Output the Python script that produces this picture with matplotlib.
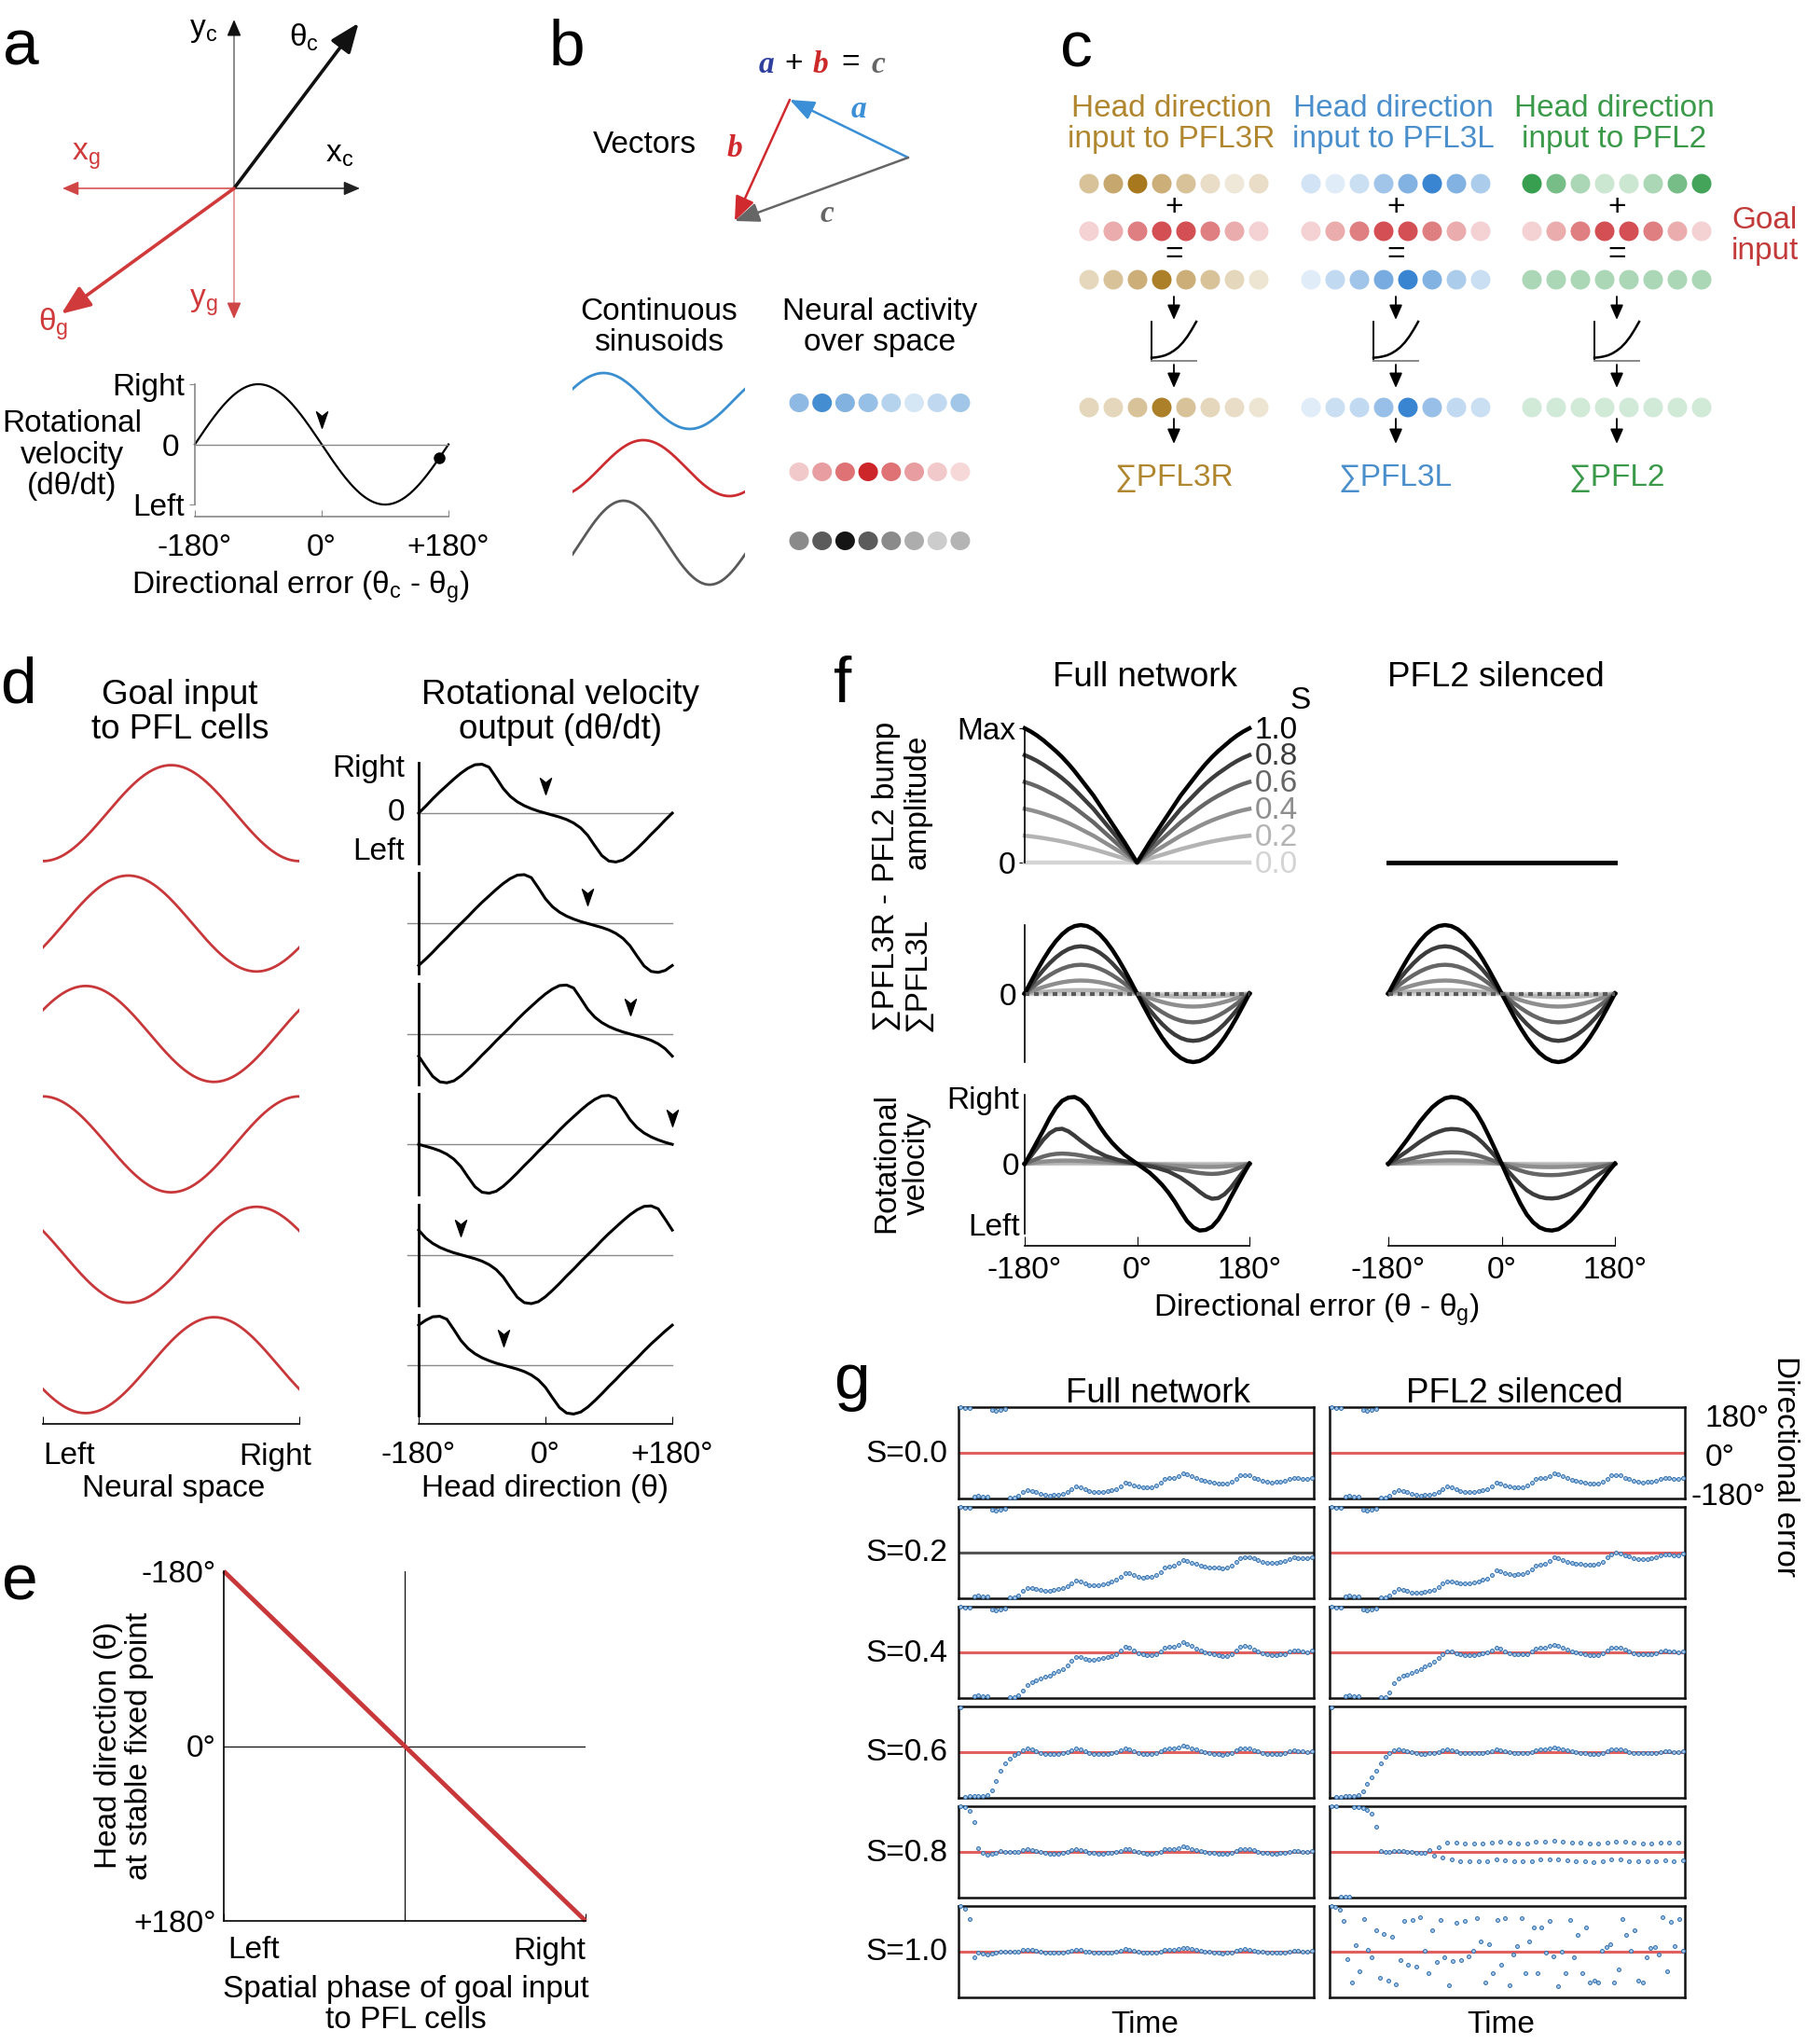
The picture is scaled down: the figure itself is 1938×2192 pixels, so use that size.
import numpy as np
import matplotlib
matplotlib.use("Agg")
import matplotlib.pyplot as plt
import matplotlib.colors as mcolors
from matplotlib import font_manager
from matplotlib.patches import Ellipse
from matplotlib.path import Path

W_PX, H_PX = 1938, 2192

# ======================= DATA =======================
# (a) schematic
A_MARK_ERR = 167
A_FIXED_POINT = 0
A_AXES = {'yc': (90, 181), 'xc': (0, 135), 'xg': (180, 184), 'yg': (270, 140)}
A_THETA_C = (53, 222)
A_THETA_G = (216, 229)

# (b)
B_VEC_A = (-127, 62)
B_VEC_B = (-59, -130)
B_PEAK_A, B_PEAK_B = 0.18, 0.41
B_AMP_A, B_AMP_B = 1.0, 1.0
B_DOTS_A = [0.55, 0.9, 0.6, 0.5, 0.35, 0.2, 0.3, 0.45]
B_DOTS_B = [0.25, 0.45, 0.65, 1.0, 0.65, 0.45, 0.25, 0.18]
B_DOTS_C = [0.5, 0.7, 1.0, 0.7, 0.5, 0.35, 0.22, 0.32]

# (c)
C_TITLES = ['Head direction\ninput to PFL3R', 'Head direction\ninput to PFL3L', 'Head direction\ninput to PFL2']
C_SUMS = ['∑PFL3R', '∑PFL3L', '∑PFL2']
C_TEXT_COLORS = ['#b0862f', '#4a8fcc', '#3a9a4a']
C_DOT_COLORS = ['#a8781e', '#2f7fcf', '#2e9a48']
C_GOAL = [0.22, 0.4, 0.62, 0.85, 0.85, 0.62, 0.4, 0.22]
C_HD = [[0.45, 0.65, 1.0, 0.6, 0.45, 0.25, 0.18, 0.25],
        [0.22, 0.15, 0.25, 0.45, 0.6, 0.95, 0.6, 0.4],
        [0.95, 0.65, 0.4, 0.25, 0.25, 0.4, 0.65, 0.9]]
C_SUMROW = [[0.3, 0.45, 0.6, 0.95, 0.6, 0.45, 0.3, 0.2],
            [0.15, 0.3, 0.45, 0.65, 0.95, 0.6, 0.4, 0.25],
            [0.4, 0.4, 0.4, 0.4, 0.4, 0.4, 0.4, 0.4]]
C_OUT = [[0.3, 0.3, 0.45, 0.95, 0.45, 0.3, 0.25, 0.2],
         [0.15, 0.25, 0.3, 0.5, 0.95, 0.5, 0.3, 0.25],
         [0.22, 0.22, 0.22, 0.22, 0.22, 0.22, 0.22, 0.22]]
C_NL_X = [0.0, 0.1, 0.2, 0.3, 0.4, 0.5, 0.6, 0.7, 0.8, 0.9, 1.0]
C_NL_Y = [0.08, 0.09, 0.11, 0.14, 0.19, 0.26, 0.35, 0.47, 0.62, 0.8, 1.0]

# (d)
D_GOAL_PEAK = [0.5, 0.333, 0.167, 0.0, 0.833, 0.667]      # peak position of goal sinusoid (Left=0, Right=1)
D_FIXED = [0, 60, 120, 180, -120, -60]                     # stable fixed points (deg)
D_THETA = np.arange(-180, 181, 10)
D_SHAPE = [0.00, 0.14, 0.29, 0.43, 0.56, 0.69, 0.81, 0.91, 0.98, 0.99, 0.93, 0.72, 0.50,
           0.34, 0.23, 0.15, 0.09, 0.04, 0.00, -0.04, -0.08, -0.13, -0.20, -0.30, -0.45,
           -0.66, -0.86, -0.97, -0.99, -0.95, -0.85, -0.72, -0.58, -0.43, -0.29, -0.14, 0.00]

# (e)
E_PHASE = [0.0, 1.0]
E_FIXED = [-180, 180]

# (f)
F_S = [0.0, 0.2, 0.4, 0.6, 0.8, 1.0]
F_COLORS = ['#d4d4d4', '#b4b4b4', '#8e8e8e', '#666666', '#3c3c3c', '#000000']
F_DELTA = np.arange(-180, 181, 10)
F_BUMP_HALF = [0, 0.075, 0.15, 0.22, 0.29, 0.36, 0.43, 0.50, 0.56, 0.62, 0.68, 0.735,
               0.785, 0.83, 0.87, 0.91, 0.945, 0.975, 1.0]
F_DIFF_AMP = [0.0, 0.05, 0.19, 0.42, 0.69, 1.0]
F_ROT_FULL_NEG = [
    [0] * 19,
    [0, 0.004, 0.007, 0.01, 0.012, 0.014, 0.015, 0.015, 0.015, 0.014, 0.013, 0.011, 0.01, 0.008, 0.006, 0.005, 0.003, 0.002, 0],
    [0, 0.012, 0.024, 0.034, 0.042, 0.048, 0.05, 0.05, 0.048, 0.045, 0.04, 0.035, 0.03, 0.025, 0.02, 0.015, 0.01, 0.005, 0],
    [0, 0.04, 0.08, 0.115, 0.14, 0.155, 0.16, 0.155, 0.145, 0.13, 0.11, 0.095, 0.08, 0.065, 0.05, 0.035, 0.025, 0.012, 0],
    [0, 0.12, 0.25, 0.38, 0.48, 0.54, 0.55, 0.51, 0.44, 0.36, 0.29, 0.22, 0.17, 0.12, 0.09, 0.06, 0.04, 0.02, 0],
    [0, 0.17, 0.35, 0.53, 0.72, 0.88, 0.99, 1.04, 1.05, 1.00, 0.90, 0.75, 0.59, 0.45, 0.33, 0.23, 0.14, 0.07, 0],
]
F_ROT_SIL_SHAPE = [0, 0.12, 0.25, 0.38, 0.52, 0.66, 0.78, 0.89, 0.97, 1.03, 1.05, 1.04, 1.0,
                   0.92, 0.80, 0.63, 0.43, 0.22, 0]
F_ROT_SIL_AMP = [0.0, 0.015, 0.05, 0.17, 0.52, 1.0]

# (g) directional error traces (deg)
G_START = [179, 178, 177, -172, -170, -171, -174, 170, 167, 168, 171, -177, -176]
G_WOBBLE = [0] * 13 + [
    2, 10, 14, 10, 4, -2, -6, -8, -8, -7,
    -5, 0, 8, 14, 10, 3, -3, -6, -7, -7,
    -6, -4, -1, 6, 16, 12, 4, -2, -6, -7,
    -7, -5, 2, 12, 14, 14, 20, 26, 22, 16,
    10, 4, 0, -3, -6, -8, -10, -9, -4, 6,
    14, 16, 14, 8, 2, -3, -6, -7, -7, -6,
    -4, 2, 6, 4, 2, 1, 4]
G_DRIFT_00 = [
    -171, -168, -165, -162, -160, -159, -158, -157, -156, -155,
    -154, -153, -152, -151, -150, -149, -148, -147, -146, -145,
    -144, -143, -141, -139, -137, -135, -133, -131, -129, -127,
    -125, -123, -121, -119, -118, -117, -116, -115, -114, -113,
    -112, -112, -111, -111, -110, -110, -110, -109, -109, -109,
    -108, -108, -108, -108, -107, -107, -107, -107, -106, -106,
    -106, -106, -106, -105, -105, -105, -105]
G_DRIFT_F02 = [
    -170, -165, -158, -152, -148, -145, -142, -140, -138, -136,
    -134, -132, -131, -130, -128, -126, -124, -122, -119, -116,
    -113, -110, -107, -104, -100, -97, -95, -93, -91, -88,
    -85, -82, -79, -76, -74, -70, -67, -64, -62, -60,
    -58, -57, -56, -54, -52, -50, -49, -48, -46, -43,
    -40, -38, -36, -34, -33, -32, -31, -30, -30, -29,
    -29, -28, -28, -27, -26, -25, -25]
G_DRIFT_S02 = [
    -170, -167, -163, -160, -157, -154, -151, -148, -145, -142,
    -139, -136, -133, -131, -127, -123, -119, -115, -112, -109,
    -106, -103, -100, -97, -92, -89, -86, -83, -80, -76,
    -74, -72, -70, -68, -66, -62, -58, -54, -52, -50,
    -48, -46, -44, -42, -40, -38, -36, -34, -31, -28,
    -25, -22, -21, -20, -19, -18, -17, -16, -16, -15,
    -15, -14, -14, -13, -12, -11, -10]
G_DRIFT_F04 = [-172, -165, -150, -132, -115, -100, -88, -78, -70, -63, -57, -51, -45, -40, -35,
               -30, -25, -20, -16, -12, -9, -7, -5, -3, -2, -1, 0, 0, 0, 0] + [0] * 37
G_DRIFT_S04 = [-160, -135, -118, -103, -92, -80, -67, -57, -47, -38, -30, -23, -18, -14, -10,
               -7, -5, -3, -2, -1] + [0] * 47
G_F06 = [178, -175, -173, -172, -171, -171, -170, -150, -115, -75, -45, -25, -12, -5, -2, -1] + [0] * 64
G_S06 = [178, -176, -175, -174, -174, -173, -170, -155, -125, -100, -72, -45, -20, -4, 0] + [0] * 65
G_F08 = [179, 176, 162, 117, 14, -4, -12, -8, -3, 2] + [0] * 70
G_S08 = [179, 179, -176, -175, -176, 177, 176, 172, 166, 152, 100, 3] + [0] * 68
G_S08_SPLIT = [0] * 22 + [8, 14, 20, 26, 30, 33, 35, 36] + [36] * 50
G_F10 = [179, 169, 130, -23, -5, -6, -11, -6, -2, 0] + [0] * 70
G_S10 = [179, 175, 166, 121, -29, -122, 25, -77, 130, 7,
         -23, 85, -104, 70, -113, 58, -128, -32, 121, -50,
         124, -59, 135, 4, -83, 85, -41, 124, -23, -131,
         -38, 115, -32, 121, -18, 4, 133, 40, -122, 31,
         -86, 124, -50, 133, -131, -11, 22, 133, -86, 40,
         97, -86, 97, -5, 121, -20, -137, 0, -86, 124,
         -23, 67, -83, 94, -122, -113, -122, 4, 18, 31,
         -122, -68, 130, 67, 4, 85, -113, -122, -23, 13,
         18, -11, 135, -77, 117, 22, 130, 4]
G_K = {'F00': 1.3, 'S00': 1.3, 'F02': 1.3, 'S02': 1.3, 'F04': 1.5, 'S04': 1.2,
       'F06': 1.0, 'S06': 0.7, 'F08': 0.8, 'S08': 0.35, 'F10': 0.6}
G_LABELS = ['S=0.0', 'S=0.2', 'S=0.4', 'S=0.6', 'S=0.8', 'S=1.0']

# ======================= STYLE =======================
names = {f.name for f in font_manager.fontManager.ttflist}
REG = 'Liberation Sans' if 'Liberation Sans' in names else 'DejaVu Sans'
SERIF = 'Liberation Serif' if 'Liberation Serif' in names else 'DejaVu Serif'
plt.rcParams['font.family'] = [REG, 'DejaVu Sans']
plt.rcParams['mathtext.fontset'] = 'custom'
plt.rcParams['mathtext.rm'] = REG
plt.rcParams['mathtext.it'] = REG + ':italic'
plt.rcParams['mathtext.bf'] = REG + ':bold'
plt.rcParams['font.size'] = 24
plt.rcParams['axes.linewidth'] = 1.2

FS = 24
FT = 26.5
FL = 50
LS = 1.1
RED = '#c8383a'

fig = plt.figure(figsize=(W_PX / 100, H_PX / 100), dpi=100, facecolor='white')


def pax(x0, y0, x1, y1):
    ax = fig.add_axes([x0 / W_PX, 1 - y1 / H_PX, (x1 - x0) / W_PX, (y1 - y0) / H_PX])
    ax.patch.set_alpha(0)
    return ax


def clean(ax):
    for s in ax.spines.values():
        s.set_visible(False)
    ax.set_xticks([])
    ax.set_yticks([])


ov = fig.add_axes([0, 0, 1, 1], zorder=20)
ov.set_xlim(0, W_PX)
ov.set_ylim(H_PX, 0)
ov.axis('off')
ov.patch.set_alpha(0)


def T(x, y, s, size=FS, ha='center', va='center', **kw):
    ov.text(x, y, s, fontsize=size, ha=ha, va=va, **kw)


def arrow(tail, head, color, lw, ms=15, hl=0.7, hw=0.3):
    ov.annotate('', xy=head, xytext=tail,
                arrowprops=dict(arrowstyle=f'-|>,head_length={hl},head_width={hw}',
                                color=color, lw=lw, shrinkA=0, shrinkB=0, mutation_scale=ms))


def polar(o, ang, length):
    return (o[0] + length * np.cos(np.deg2rad(ang)), o[1] - length * np.sin(np.deg2rad(ang)))


def mix(base, t):
    rgb = np.array(mcolors.to_rgb(base))
    return tuple(1 - t * (1 - rgb))


def wrap(v):
    return (np.asarray(v, dtype=float) + 180) % 360 - 180


CHEV = Path([(0, -1), (-0.62, 0.8), (0, 0.3), (0.62, 0.8), (0, -1)],
            [Path.MOVETO, Path.LINETO, Path.LINETO, Path.LINETO, Path.CLOSEPOLY])

# panel letters
for lab, x, y in [('a', 3, 70), ('b', 589, 70), ('c', 1137, 72), ('d', 0, 753),
                  ('e', 2, 1716), ('f', 894, 753), ('g', 894, 1500)]:
    T(x, y, lab, size=FL, ha='left', va='baseline')

# ======================= (a) =======================
O = (251, 202)
p = polar(O, *A_AXES['yc'])
ov.plot([O[0], p[0]], [O[1], p[1] + 10], color='#8c8c8c', lw=1.4)
arrow((p[0], p[1] + 12), p, '#111111', 1.2)
p = polar(O, *A_AXES['xc'])
arrow(O, p, '#222222', 1.1)
p = polar(O, *A_AXES['xg'])
arrow(O, p, '#d04545', 1.1)
p = polar(O, *A_AXES['yg'])
ov.plot([O[0], p[0]], [O[1], p[1] - 10], color='#e7a0a0', lw=1.4)
arrow((p[0], p[1] - 12), p, '#d04545', 1.2)
arrow(O, polar(O, *A_THETA_C), '#111111', 2.6, ms=24, hl=0.8, hw=0.32)
arrow(O, polar(O, *A_THETA_G), '#d03a3a', 2.6, ms=24, hl=0.8, hw=0.32)
T(218, 32, 'y$_{\\rm c}$')
T(326, 40, 'θ$_{\\rm c}$')
T(364, 166, 'x$_{\\rm c}$')
T(92, 168, 'x$_{\\rm g}$', color='#d03a3a')
T(218, 325, 'y$_{\\rm g}$', color='#d03a3a')
T(57, 348, 'θ$_{\\rm g}$', color='#d03a3a')

axa = pax(209, 412, 481, 554)
ae = np.arange(-180, 181, 2)
axa.plot(ae, -np.sin(np.deg2rad(ae)), color='black', lw=1.6, clip_on=False)
axa.plot([-180, 180], [0, 0], color='#888888', lw=1.0)
axa.plot([A_MARK_ERR], [-np.sin(np.deg2rad(A_MARK_ERR))], 'o', color='black', ms=8, clip_on=False)
axa.plot([A_FIXED_POINT], [0.42], marker=CHEV, color='black', ms=14, ls='none', clip_on=False)
axa.set_xlim(-180, 180)
axa.set_ylim(-1.2, 1.0)
for s in ['top', 'right']:
    axa.spines[s].set_visible(False)
axa.spines['left'].set_bounds(-1, 1)
axa.spines['left'].set_color('#888888')
axa.spines['bottom'].set_color('#888888')
axa.set_yticks([-1, 1])
axa.set_yticklabels(['Left', 'Right'])
axa.set_yticks([0], minor=True)
axa.set_yticklabels(['0'], minor=True)
axa.tick_params(axis='y', which='major', length=4, color='#888888', labelsize=FS, pad=4)
axa.tick_params(axis='y', which='minor', length=0, labelsize=FS, pad=12)
axa.set_xticks([-180, 0, 180])
axa.set_xticklabels(['-180°', '0°', '+180°'])
axa.tick_params(axis='x', direction='in', length=5, color='#888888', labelsize=FS, pad=13)
T(77, 488, 'Rotational\nvelocity\n(dθ/dt)', linespacing=LS)
T(322, 630, 'Directional error (θ$_{\\rm c}$ - θ$_{\\rm g}$)')

# ======================= (b) =======================
eq = [('a', '#2e3f9e', True), ('+', 'black', False), ('b', '#cc2a2a', True),
      ('=', 'black', False), ('c', '#666666', True)]
for (s, col, it), x in zip(eq, [822, 851, 880, 912, 942]):
    if it:
        T(x, 70, s, size=FS, color=col, family=SERIF, style='italic', weight='bold')
    else:
        T(x, 68, s, size=FS, color=col)
tail = (974, 169)
ha_ = (tail[0] + B_VEC_A[0], tail[1] - B_VEC_A[1])
hb_ = (ha_[0] + B_VEC_B[0], ha_[1] - B_VEC_B[1])
arrow(tail, ha_, '#3a8fd6', 1.8, ms=20, hl=0.8, hw=0.32)
arrow(ha_, hb_, '#d0292e', 1.8, ms=20, hl=0.8, hw=0.32)
vc = (B_VEC_A[0] + B_VEC_B[0], B_VEC_A[1] + B_VEC_B[1])
arrow(tail, (tail[0] + vc[0], tail[1] - vc[1]), '#666666', 1.8, ms=20, hl=0.8, hw=0.32)
T(921, 117, 'a', color='#3a8fd6', family=SERIF, style='italic', weight='bold')
T(788, 160, 'b', color='#d0292e', family=SERIF, style='italic', weight='bold')
T(887, 230, 'c', color='#666666', family=SERIF, style='italic', weight='bold')
T(691, 156, 'Vectors')
T(707, 351, 'Continuous\nsinusoids', linespacing=LS)
T(944, 351, 'Neural activity\nover space', linespacing=LS)

xs = np.linspace(0, 1, 200)
ya = B_AMP_A * np.cos(2 * np.pi * (xs - B_PEAK_A))
yb = B_AMP_B * np.cos(2 * np.pi * (xs - B_PEAK_B))
for yy, cy, col in [(ya, 430, '#3a8fd0'), (yb, 502, '#cc2d30'), (ya + yb, 582, '#5a5a5a')]:
    axs = pax(614, cy - 48, 799, cy + 48)
    axs.plot(xs, yy, color=col, lw=2.0)
    axs.set_xlim(0, 1)
    axs.set_ylim(-1.6, 1.6)
    clean(axs)

for vals, cy, base in [(B_DOTS_A, 432, '#2f80cc'), (B_DOTS_B, 506, '#cc262b'), (B_DOTS_C, 580, '#151515')]:
    for k, v in enumerate(vals):
        ov.add_patch(Ellipse((857 + k * 24.7, cy), 21, 20, facecolor=mix(base, v), edgecolor='none'))

# ======================= (c) =======================
col_x0 = [1168, 1406, 1643]
sp = 26
for j in range(3):
    cx = col_x0[j] + 3.5 * sp
    T(cx - 3, 133, C_TITLES[j], color=C_TEXT_COLORS[j], linespacing=LS)
    for vals, cy, base in [(C_HD[j], 197, C_DOT_COLORS[j]), (C_GOAL, 248, '#cc3035'),
                           (C_SUMROW[j], 300, C_DOT_COLORS[j]), (C_OUT[j], 437, C_DOT_COLORS[j])]:
        for k, v in enumerate(vals):
            ov.add_patch(Ellipse((col_x0[j] + k * sp, cy), 21, 21, facecolor=mix(base, v), edgecolor='none'))
    T(cx, 222, '+')
    T(cx, 274, '=')
    arrow((cx, 318), (cx, 343), 'black', 1.3, ms=12, hl=0.8, hw=0.35)
    arrow((cx, 391), (cx, 416), 'black', 1.3, ms=12, hl=0.8, hw=0.35)
    arrow((cx, 449), (cx, 476), 'black', 1.3, ms=12, hl=0.8, hw=0.35)
    axn = pax(cx - 24, 345, cx + 24, 387)
    axn.plot(C_NL_X, C_NL_Y, color='black', lw=1.8, clip_on=False)
    axn.set_xlim(0, 1)
    axn.set_ylim(0, 1)
    axn.set_xticks([])
    axn.set_yticks([])
    axn.spines['top'].set_visible(False)
    axn.spines['right'].set_visible(False)
    axn.spines['left'].set_linewidth(1.4)
    axn.spines['bottom'].set_color('#888888')
    axn.spines['bottom'].set_linewidth(1.4)
    T(cx, 513, C_SUMS[j], color=C_TEXT_COLORS[j])
T(1893, 253, 'Goal\ninput', color='#c23a3a', linespacing=LS)

# ======================= (d) =======================
T(193, 764, 'Goal input\nto PFL cells', size=FT, linespacing=1.08)
T(601, 764, 'Rotational velocity\noutput (dθ/dt)', size=FT, linespacing=1.08)
xd = np.linspace(0, 1, 200)
g36 = np.array(D_SHAPE[:-1])
for k in range(6):
    cy = 872 + k * 118.4
    axl = pax(46, cy - 54, 321, cy + 54)
    axl.plot(xd, -np.cos(2 * np.pi * (xd - D_GOAL_PEAK[k] - 0.5)), color=RED, lw=2.0)
    axl.set_xlim(0, 1)
    axl.set_ylim(-1.05, 1.05)
    clean(axl)
    axr = pax(449, cy - 54, 721, cy + 54)
    v = np.roll(g36, int(D_FIXED[k] // 10))
    v = np.append(v, v[0])
    x0 = -180 if k == 0 else -196
    axr.plot([x0, 180], [0, 0], color='#8a8a8a', lw=1.0, clip_on=False)
    axr.plot(D_THETA, v, color='black', lw=2.2, clip_on=False)
    axr.plot([D_FIXED[k]], [0.56], marker=CHEV, color='black', ms=14, ls='none', clip_on=False)
    axr.set_xlim(-180, 180)
    axr.set_ylim(-1.02, 1.02)
    for s in ['top', 'right', 'bottom']:
        axr.spines[s].set_visible(False)
    axr.spines['left'].set_linewidth(2.0)
    axr.set_xticks([])
    axr.set_yticks([])
T(434, 824, 'Right', ha='right')
T(434, 872, '0', ha='right')
T(434, 914, 'Left', ha='right')
axb = pax(46, 1500, 321, 1527)
axb.set_xlim(0, 1)
axb.set_ylim(0, 1)
for s in ['top', 'right', 'left']:
    axb.spines[s].set_visible(False)
axb.set_yticks([])
axb.set_xticks([0, 1])
axb.set_xticklabels([])
axb.tick_params(axis='x', direction='in', length=6)
T(46, 1562, 'Left', ha='left')
T(334, 1562, 'Right', ha='right')
T(186, 1597, 'Neural space')
axb2 = pax(449, 1500, 721, 1527)
axb2.set_xlim(-180, 180)
axb2.set_ylim(0, 1)
for s in ['top', 'right', 'left']:
    axb2.spines[s].set_visible(False)
axb2.set_yticks([])
axb2.set_xticks([-180, 0, 180])
axb2.set_xticklabels(['-180°', '0°', '+180°'])
axb2.tick_params(axis='x', direction='in', length=6, labelsize=FS, pad=13)
T(585, 1597, 'Head direction (θ)')

# ======================= (e) =======================
axe = pax(240, 1685, 628, 2060)
axe.plot([0.5, 0.5], [-180, 180], color='black', lw=0.8)
axe.plot([0, 1], [0, 0], color='black', lw=0.8)
axe.plot(E_PHASE, E_FIXED, color=RED, lw=3.5, clip_on=False, solid_capstyle='butt')
axe.set_xlim(0, 1)
axe.set_ylim(180, -180)
axe.spines['top'].set_visible(False)
axe.spines['right'].set_visible(False)
axe.set_yticks([-180, 0, 180])
axe.set_yticklabels(['-180°', '0°', '+180°'])
axe.tick_params(axis='y', length=0, labelsize=FS, pad=6)
axe.set_xticks([0, 0.5, 1])
axe.set_xticklabels([])
axe.tick_params(axis='x', direction='in', length=6)
T(244, 2092, 'Left', ha='left')
T(628, 2092, 'Right', ha='right')
T(435, 2150, 'Spatial phase of goal input\nto PFL cells', linespacing=LS)
T(133, 1872, 'Head direction (θ)\nat stable fixed point', rotation=90, linespacing=LS)

# ======================= (f) =======================
T(1228, 726, 'Full network', size=FT)
T(1604, 726, 'PFL2 silenced', size=FT)
T(1395, 751, 'S')
F_BUMP = np.array(F_BUMP_HALF[::-1] + F_BUMP_HALF[1:])
fx = {'full': (1099, 1340), 'sil': (1489, 1732)}

# top row
axt = pax(fx['full'][0], 781, fx['full'][1], 925)
for s_, c_ in zip(F_S, F_COLORS):
    axt.plot(F_DELTA, s_ * F_BUMP, color=c_, lw=3.2, clip_on=False)
    T(1346, 927 - s_ * 144, f'{s_:.1f}', ha='left', color=c_)
axt.set_xlim(-180, 180)
axt.set_ylim(0, 1)
for s in ['top', 'right', 'bottom']:
    axt.spines[s].set_visible(False)
axt.set_xticks([])
axt.set_yticks([0, 1])
axt.set_yticklabels(['0', 'Max'])
axt.tick_params(axis='y', length=4, labelsize=FS, pad=3)
axts = pax(fx['sil'][0], 781, fx['sil'][1], 925)
axts.plot([-180, 180], [0, 0], color='black', lw=3.6, clip_on=False)
axts.set_xlim(-180, 180)
axts.set_ylim(0, 1)
clean(axts)

# middle row
for key in ['full', 'sil']:
    axm = pax(fx[key][0], 992, fx[key][1], 1139)
    for a_, c_ in zip(F_DIFF_AMP, F_COLORS):
        axm.plot(F_DELTA, -a_ * np.sin(np.deg2rad(F_DELTA)), color=c_, lw=3.2, clip_on=False)
    axm.plot([-180, 180], [0, 0], color='#5a5a5a', lw=3.0, ls=(0, (1.2, 1.2)), clip_on=False)
    axm.set_xlim(-180, 180)
    axm.set_ylim(-1, 1)
    if key == 'full':
        for s in ['top', 'right', 'bottom']:
            axm.spines[s].set_visible(False)
        axm.set_xticks([])
        axm.set_yticks([0])
        axm.set_yticklabels(['0'])
        axm.tick_params(axis='y', length=0, labelsize=FS, pad=6)
    else:
        clean(axm)

# bottom row
sil_shape_neg = np.array(F_ROT_SIL_SHAPE)
sil_full = np.concatenate([sil_shape_neg, -sil_shape_neg[-2::-1]])
for key in ['full', 'sil']:
    axr = pax(fx[key][0], 1173, fx[key][1], 1336)
    for i_, c_ in enumerate(F_COLORS):
        if key == 'full':
            neg = np.array(F_ROT_FULL_NEG[i_], dtype=float)
            yv = np.concatenate([neg, -neg[-2::-1]])
        else:
            yv = F_ROT_SIL_AMP[i_] * sil_full
        axr.plot(F_DELTA, yv, color=c_, lw=3.2, clip_on=False)
    axr.set_xlim(-180, 180)
    axr.set_ylim(-1.29, 1.1)
    axr.spines['top'].set_visible(False)
    axr.spines['right'].set_visible(False)
    axr.set_xticks([-180, 0, 180])
    axr.set_xticklabels(['-180°', '0°', '180°'])
    axr.tick_params(axis='x', direction='in', length=7, labelsize=FS, pad=8)
    if key == 'full':
        axr.spines['left'].set_bounds(-1.1, 1.09)
        axr.set_yticks([1.04, 0, -0.96])
        axr.set_yticklabels(['Right', '0', 'Left'])
        axr.tick_params(axis='y', length=0, labelsize=FS, pad=4)
    else:
        axr.spines['left'].set_visible(False)
        axr.set_yticks([])
T(967, 860, 'PFL2 bump\namplitude', rotation=90, linespacing=LS)
T(967, 1106, '∑PFL3R -\n∑PFL3L', rotation=90, va='bottom', linespacing=LS, multialignment='left')
T(967, 1247, 'Rotational\nvelocity', rotation=90, linespacing=LS)
T(1412, 1405, 'Directional error (θ - θ$_{\\rm g}$)')

# ======================= (g) =======================
T(1242, 1494, 'Full network', size=FT)
T(1624, 1494, 'PFL2 silenced', size=FT)
Wb = np.array(G_WOBBLE, dtype=float)
ALT = np.where(np.arange(80) % 2 == 0, 1.0, -1.0)
traces = {
    'F00': np.array(G_START + G_DRIFT_00) + G_K['F00'] * Wb,
    'S00': np.array(G_START + G_DRIFT_00) + G_K['S00'] * Wb,
    'F02': np.array(G_START + G_DRIFT_F02) + G_K['F02'] * Wb,
    'S02': np.array(G_START + G_DRIFT_S02) + G_K['S02'] * Wb,
    'F04': np.array(G_START + G_DRIFT_F04) + G_K['F04'] * Wb,
    'S04': np.array(G_START + G_DRIFT_S04) + G_K['S04'] * Wb,
    'F06': np.array(G_F06) + G_K['F06'] * Wb,
    'S06': np.array(G_S06) + G_K['S06'] * Wb,
    'F08': np.array(G_F08) + G_K['F08'] * Wb,
    'S08': np.array(G_S08) + ALT * np.array(G_S08_SPLIT) + G_K['S08'] * Wb,
    'F10': np.array(G_F10) + G_K['F10'] * Wb,
    'S10': np.array(G_S10, dtype=float),
}
row_keys = ['00', '02', '04', '06', '08', '10']
for r, rk in enumerate(row_keys):
    y0 = 1509 + r * 107
    T(1016, y0 + 50, G_LABELS[r], ha='right')
    for key, (x0, x1) in [('F', (1028, 1409)), ('S', (1426, 1807))]:
        axg = pax(x0, y0, x1, y0 + 98)
        vals = wrap(traces[key + rk])
        n = len(vals)
        lc = '#555555' if (key == 'F' and rk == '02') else '#e06060'
        axg.plot([-0.5, n - 0.5], [0, 0], color=lc, lw=2.2, zorder=1)
        axg.plot(np.arange(n), vals, 'o', ms=2.8, mfc='#a6c8e8', mec='#2d6cab', mew=0.7,
                 clip_on=False, zorder=3)
        axg.set_xlim(-0.5, n - 0.5)
        axg.set_ylim(-180, 180)
        axg.set_xticks([])
        axg.set_yticks([])
        for s in axg.spines.values():
            s.set_linewidth(1.8)
            s.set_color('#111111')
T(1829, 1522, '180°', ha='left')
T(1829, 1564, '0°', ha='left')
T(1814, 1606, '-180°', ha='left')
T(1915, 1572, 'Directional error', rotation=-90)
T(1228, 2171, 'Time')
T(1610, 2171, 'Time')

fig.savefig('out.png', dpi=100, facecolor='white')
